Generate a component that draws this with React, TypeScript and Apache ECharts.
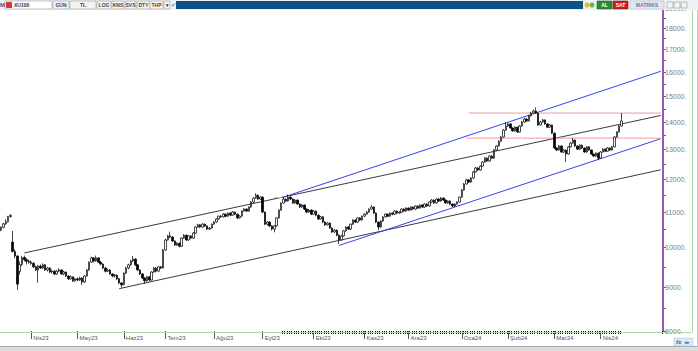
import React, { useEffect, useRef } from 'react';
import * as echarts from 'echarts';

// ---------- DATA ----------
const MONTH_LABELS = ['Mar23', 'Nis23', 'May23', 'Haz23', 'Tem23', 'Ağu23', 'Eyl23', 'Eki23', 'Kas23', 'Ara23', 'Oca24', 'Şub24', 'Mar24', 'Nis24'];

// daily candles: [open, close, low, high]
const MAR23 = [
  [10480, 10560, 10450, 10590], [10560, 10660, 10530, 10690], [10660, 10720, 10630, 10790], [10720, 10870, 10700, 10890],
  [10870, 10900, 10840, 10940], [10150, 9900, 9870, 10460], [9900, 9780, 9720, 9960], [9780, 9070, 8930, 9800],
  [9380, 9560, 9300, 9640], [9560, 9740, 9520, 9780], [9740, 9680, 9640, 9790], [9680, 9640, 9560, 9720],
  [9640, 9620, 9580, 9690],
];
const NIS23 = [
  [9620, 9590, 9550, 9660], [9590, 9500, 9470, 9620], [9500, 9420, 9390, 9530], [9420, 9520, 9100, 9550],
  [9520, 9470, 9440, 9560], [9470, 9550, 9450, 9590], [9550, 9420, 9400, 9570], [9420, 9470, 9380, 9500],
  [9470, 9370, 9340, 9490], [9370, 9390, 9330, 9430], [9390, 9320, 9290, 9410], [9320, 9390, 9300, 9420],
  [9390, 9420, 9360, 9460], [9420, 9320, 9300, 9440], [9320, 9370, 9290, 9400], [9370, 9270, 9240, 9380],
  [9270, 9200, 9170, 9290], [9200, 9250, 9180, 9280], [9250, 9150, 9120, 9260], [9150, 9200, 9130, 9230],
];
const MAY23 = [
  [9200, 9170, 9140, 9230], [9170, 9220, 9150, 9250], [9220, 9120, 9050, 9240], [9120, 9270, 9100, 9290],
  [9270, 9420, 9250, 9440], [9420, 9620, 9400, 9640], [9620, 9730, 9600, 9760], [9730, 9650, 9620, 9750],
  [9650, 9730, 9630, 9790], [9730, 9620, 9600, 9750], [9620, 9570, 9540, 9650], [9570, 9470, 9440, 9590],
  [9470, 9390, 9360, 9490], [9390, 9420, 9370, 9450], [9420, 9320, 9300, 9440], [9320, 9270, 9240, 9340],
  [9270, 9290, 9230, 9320], [9290, 9200, 9170, 9310], [9200, 9100, 9070, 9220], [9100, 9050, 8990, 9120],
];
const HAZ23 = [
  [9060, 9340, 9040, 9360], [9340, 9470, 9320, 9500], [9470, 9550, 9440, 9580], [9550, 9650, 9530, 9680],
  [9650, 9700, 9620, 9780], [9700, 9550, 9520, 9720], [9550, 9420, 9400, 9570], [9420, 9320, 9290, 9440],
  [9320, 9220, 9190, 9340], [9220, 9150, 9080, 9240], [9150, 9250, 9130, 9270], [9250, 9170, 9140, 9270],
  [9170, 9370, 9160, 9390], [9370, 9470, 9350, 9490], [9470, 9390, 9360, 9490], [9390, 9500, 9380, 9520],
  [9500, 9470, 9440, 9520], [9470, 9940, 9460, 9960],
];
const TEM23 = [
  [9940, 10210, 9920, 10240], [10210, 10320, 10190, 10350], [10320, 10290, 10260, 10440], [10290, 10180, 10150, 10310],
  [10180, 10070, 10040, 10200], [10070, 10120, 10050, 10150], [10120, 10040, 10010, 10140], [10040, 10260, 10020, 10280],
  [10260, 10340, 10240, 10370], [10340, 10210, 10180, 10360], [10210, 10320, 10190, 10340], [10320, 10260, 10230, 10340],
  [10260, 10400, 10240, 10420], [10400, 10570, 10380, 10590], [10570, 10630, 10550, 10660], [10630, 10570, 10540, 10650],
  [10570, 10650, 10550, 10680], [10650, 10600, 10570, 10670], [10600, 10510, 10480, 10620], [10510, 10540, 10490, 10570],
  [10540, 10650, 10520, 10670],
];
const AGU23 = [
  [10650, 10710, 10630, 10740], [10710, 10800, 10690, 10820], [10800, 10880, 10780, 10900], [10880, 10860, 10830, 10910],
  [10860, 10940, 10840, 10970], [10940, 10880, 10850, 10960], [10880, 10970, 10860, 10990], [10970, 10910, 10880, 10990],
  [10910, 11000, 10890, 11030], [11000, 10940, 10910, 11020], [10940, 10830, 10800, 10960], [10830, 10880, 10810, 10910],
  [10880, 11030, 10860, 11050], [11030, 11090, 11010, 11120], [11090, 11030, 11000, 11110], [11030, 11150, 11010, 11170],
  [11150, 11300, 11130, 11320], [11300, 11420, 11280, 11450], [11420, 11510, 11400, 11570], [11510, 11390, 11360, 11530],
  [11390, 11450, 11370, 11480],
];
const EYL23 = [
  [11450, 11000, 10970, 11470], [11000, 10650, 10620, 11020], [10650, 10710, 10610, 10740], [10710, 10600, 10570, 10730],
  [10600, 10510, 10470, 10620], [10510, 10600, 10420, 10620], [10600, 10830, 10580, 10850], [10830, 11060, 10810, 11080],
  [11060, 11270, 11040, 11290], [11270, 11390, 11250, 11450], [11390, 11330, 11300, 11410], [11330, 11450, 11310, 11530],
  [11450, 11390, 11360, 11470], [11390, 11270, 11240, 11410], [11270, 11360, 11250, 11390], [11360, 11240, 11210, 11380],
  [11240, 11150, 11120, 11260], [11150, 11210, 11130, 11240], [11210, 11090, 11060, 11230], [11090, 11000, 10970, 11110],
  [11000, 11060, 10980, 11090], [11060, 10940, 10910, 11080],
];
const EKI23 = [
  [10940, 11030, 10920, 11060], [11030, 10910, 10880, 11050], [10910, 10800, 10770, 10930], [10800, 10860, 10780, 10890],
  [10860, 10710, 10680, 10880], [10710, 10630, 10600, 10730], [10630, 10680, 10610, 10710], [10680, 10540, 10510, 10700],
  [10540, 10430, 10400, 10560], [10430, 10480, 10410, 10510], [10480, 10340, 10310, 10500], [10340, 10210, 10100, 10360],
  [10210, 10320, 10190, 10350], [10320, 10460, 10300, 10480], [10460, 10570, 10440, 10590], [10570, 10510, 10480, 10590],
  [10510, 10650, 10490, 10670], [10650, 10770, 10630, 10790], [10770, 10710, 10680, 10790], [10710, 10830, 10690, 10850],
  [10830, 10770, 10740, 10850], [10770, 10880, 10750, 10900],
];
const KAS23 = [
  [10880, 10940, 10860, 10970], [10940, 11000, 10920, 11030], [11000, 11090, 10980, 11110], [11090, 11150, 11070, 11210],
  [11150, 10970, 10940, 11170], [10970, 10710, 10680, 10990], [10710, 10570, 10480, 10730], [10570, 10740, 10550, 10760],
  [10740, 10860, 10720, 10880], [10860, 10940, 10840, 10960], [10940, 10880, 10850, 10960], [10880, 10970, 10860, 10990],
  [10970, 10940, 10910, 10990], [10940, 11030, 10920, 11050], [11030, 10970, 10940, 11050], [10970, 11000, 10950, 11030],
  [11000, 11090, 10980, 11110], [11090, 11030, 11000, 11110], [11030, 11120, 11010, 11140],
];
const ARA23 = [
  [11120, 11060, 11030, 11140], [11060, 11150, 11040, 11170], [11150, 11090, 11060, 11170], [11090, 11180, 11070, 11200],
  [11180, 11120, 11090, 11200], [11120, 11210, 11100, 11230], [11210, 11150, 11120, 11230], [11150, 11240, 11130, 11260],
  [11240, 11180, 11150, 11260], [11180, 11300, 11160, 11320], [11300, 11360, 11280, 11390], [11360, 11270, 11240, 11380],
  [11270, 11390, 11250, 11410], [11390, 11330, 11300, 11410], [11330, 11420, 11310, 11450], [11420, 11360, 11330, 11440],
  [11360, 11270, 11240, 11380], [11270, 11330, 11250, 11350], [11330, 11240, 11210, 11350], [11240, 11180, 11150, 11260],
  [11180, 11240, 11150, 11260], [11240, 11300, 11220, 11320], [11300, 11450, 11280, 11470],
];
const OCA24 = [
  [11450, 11670, 11430, 11700], [11670, 11860, 11650, 11890], [11860, 11990, 11840, 12020], [11990, 11920, 11890, 12020],
  [11920, 12050, 11900, 12080], [12050, 12250, 12030, 12280], [12250, 12380, 12230, 12410], [12380, 12310, 12280, 12410],
  [12310, 12440, 12290, 12470], [12440, 12580, 12420, 12610], [12580, 12710, 12560, 12740], [12710, 12610, 12580, 12740],
  [12610, 12780, 12590, 12810], [12780, 12710, 12680, 12810], [12710, 12990, 12690, 13020], [12990, 13130, 12970, 13160],
  [13130, 13300, 13110, 13330], [13300, 13450, 13280, 13480], [13450, 13700, 13430, 13740], [13700, 13850, 13680, 14000],
];
const SUB24 = [
  [13850, 13930, 13820, 13970], [13930, 13780, 13750, 13960], [13780, 13670, 13640, 13800], [13670, 13810, 13650, 13840],
  [13810, 13630, 13600, 13830], [13630, 13850, 13610, 13880], [13850, 14000, 13830, 14040], [14000, 14110, 13980, 14150],
  [14110, 14040, 14000, 14140], [14040, 14230, 14020, 14270], [14230, 14340, 14210, 14380], [14340, 14420, 14310, 14470],
  [14420, 14340, 14300, 14560], [14340, 13890, 13860, 14370], [13890, 14000, 13870, 14040], [14000, 14080, 13980, 14120],
  [14080, 13930, 13900, 14100], [13930, 13810, 13780, 13950], [13810, 13890, 13790, 13920], [13890, 13590, 13560, 13910],
];
const MAR24 = [
  [13590, 13060, 13030, 13610], [13060, 12990, 12950, 13090], [12990, 13130, 12970, 13160], [13130, 12920, 12890, 13150],
  [12920, 12990, 12880, 13020], [12990, 12850, 12580, 13010], [12850, 13100, 12830, 13130], [13100, 13230, 13080, 13260],
  [13230, 13340, 13210, 13420], [13340, 13130, 13100, 13360], [13130, 13020, 12990, 13150], [13020, 13160, 13000, 13190],
  [13160, 13060, 13030, 13180], [13060, 12920, 12890, 13080], [12920, 13100, 12900, 13130], [13100, 12990, 12960, 13120],
  [12990, 12850, 12820, 13010], [12850, 12780, 12750, 12870], [12780, 12880, 12760, 12910], [12880, 12710, 12640, 12900],
];
const NIS24 = [
  [12710, 12920, 12690, 12950], [12920, 13020, 12900, 13050], [13020, 12950, 12920, 13040], [12950, 13060, 12930, 13090],
  [13060, 12990, 12960, 13080], [12990, 13100, 12970, 13130], [13100, 13450, 13080, 13480], [13450, 13630, 13430, 13660],
  [13630, 13850, 13610, 13880], [13850, 14040, 13830, 14340],
];

const FUTURE_SLOTS = 17;

// trend lines: [category index, price]
const BLACK_UPPER = [[10, 9860], [285, 14250]];
const BLACK_LOWER = [[51, 8960], [285, 12320]];
const BLUE_UPPER = [[122, 11450], [285, 16040]];
const BLUE_LOWER = [[146, 10060], [285, 13390]];
const YELLOW_MARK = [[118, 11440], [121, 11440]];
const RED_HIGH = [[202, 14340], [285, 14340]];
const RED_LOW = [[201, 13410], [285, 13410]];

const Y_LABELS = [8000, 9000, 10000, 11000, 12000, 13000, 14000, 15000, 16000, 17000, 18000, 19000];
const Y_TICKS = [8000, 8500, 9000, 9500, 10000, 10500, 11000, 11500, 12000, 12500, 13000, 13500, 14000, 14500, 15000, 15500, 16000, 16500, 17000, 17500, 18000, 18500, 19000];
const MARKED_FROM = 122;
const MARKED_TO = 268;

const MONTH_DATA = [MAR23, NIS23, MAY23, HAZ23, TEM23, AGU23, EYL23, EKI23, KAS23, ARA23, OCA24, SUB24, MAR24, NIS24];

export default function App() {
  const ref = useRef<HTMLDivElement>(null);
  useEffect(() => {
    if (!ref.current) return;
    const chart = echarts.init(ref.current, undefined, { renderer: 'svg' });

    const categories: string[] = [];
    const candles: number[][] = [];
    const monthStart = new Map<number, string>();
    MONTH_DATA.forEach((m, mi) => {
      m.forEach((c, d) => {
        const idx = categories.length;
        if (d === 0 && mi > 0) monthStart.set(idx, MONTH_LABELS[mi]);
        categories.push(`${MONTH_LABELS[mi]}-${d + 1}`);
        candles.push(c);
      });
    });
    for (let k = 1; k <= FUTURE_SLOTS; k++) categories.push(`+${k}`);

    const trend = (data: number[][], color: string, name: string) => ({
      type: 'line', name, data, symbol: 'none', silent: true,
      lineStyle: { color, width: 1 }, z: 3,
    });

    const font = 'Liberation Sans';
    const btn = (x: number, w: number, label: string, fill = '#f4f4f4', color = '#444', stroke = '#9a9a9a') => [
      { type: 'rect', shape: { x, y: 1, width: w, height: 8 }, style: { fill, stroke, lineWidth: 0.6 }, z: 100 },
      { type: 'text', x: x + w / 2, y: 5.2, style: { text: label, fill: color, fontSize: 5, fontFamily: font, fontWeight: 'bold', align: 'center', verticalAlign: 'middle' }, z: 101 },
    ];

    const graphics: any[] = [
      { type: 'rect', shape: { x: 0, y: 0, width: 698, height: 10 }, style: { fill: '#eef1f4' }, z: 99 },
      { type: 'text', x: 0, y: 5, style: { text: 'M', fill: '#6b3b8c', fontSize: 6, fontFamily: font, fontWeight: 'bold', verticalAlign: 'middle' }, z: 101 },
      { type: 'rect', shape: { x: 5, y: 1, width: 47, height: 8 }, style: { fill: '#fff', stroke: '#9a9a9a', lineWidth: 0.6 }, z: 100 },
      { type: 'rect', shape: { x: 6, y: 2, width: 6, height: 6 }, style: { fill: '#d23a3a' }, z: 101 },
      { type: 'text', x: 14, y: 5.2, style: { text: 'XU100', fill: '#333', fontSize: 5, fontFamily: font, fontWeight: 'bold', verticalAlign: 'middle' }, z: 101 },
      ...btn(53, 16, 'GÜN'),
      ...btn(70, 26, 'TL'),
      ...btn(97, 14, 'LOG'),
      ...btn(112, 12, 'KNS'),
      ...btn(125, 11, 'SVS'),
      ...btn(137, 13, 'DTY'),
      ...btn(150, 13, 'THP'),
      ...btn(164, 6, '▾'),
      { type: 'text', x: 171, y: 5.2, style: { text: '✔', fill: '#3a8fd8', fontSize: 6, fontFamily: font, verticalAlign: 'middle' }, z: 101 },
      { type: 'rect', shape: { x: 176, y: 1, width: 407, height: 8 }, style: { fill: '#0e5186' }, z: 100 },
      { type: 'circle', shape: { cx: 587, cy: 5, r: 2.5 }, style: { fill: '#e8b828' }, z: 101 },
      { type: 'circle', shape: { cx: 592, cy: 5, r: 2.5 }, style: { fill: '#5cb85c' }, z: 101 },
      ...btn(597, 15, 'AL', '#2b8a3a', '#fff', '#1d6a2a'),
      ...btn(613, 15, 'SAT', '#c42020', '#fff', '#8e1515'),
      ...btn(630, 34, 'MATRIKS', '#e4e8ee', '#5a7ea8', '#b0b8c4'),
      { type: 'rect', shape: { x: 667, y: 2, width: 6, height: 6 }, style: { fill: '#f4f4f4', stroke: '#999', lineWidth: 0.6 }, z: 100 },
      { type: 'rect', shape: { x: 674, y: 2, width: 6, height: 6 }, style: { fill: '#f4f4f4', stroke: '#999', lineWidth: 0.6 }, z: 100 },
      { type: 'rect', shape: { x: 681, y: 2, width: 6, height: 6 }, style: { fill: '#f4f4f4', stroke: '#999', lineWidth: 0.6 }, z: 100 },
      // price-axis spine
      { type: 'rect', shape: { x: 662, y: 10, width: 2, height: 321 }, style: { fill: '#9a55b8' }, z: 50 },
      // frame
      { type: 'line', shape: { x1: 0, y1: 332.5, x2: 692, y2: 332.5 }, style: { stroke: '#a9d9a9', lineWidth: 1 }, z: 5 },
      { type: 'line', shape: { x1: 692.5, y1: 10, x2: 692.5, y2: 332 }, style: { stroke: '#a9d9a9', lineWidth: 1 }, z: 5 },
      { type: 'line', shape: { x1: 697.5, y1: 10, x2: 697.5, y2: 351 }, style: { stroke: '#c8c8c8', lineWidth: 1 }, z: 5 },
      // status bar
      { type: 'rect', shape: { x: 0, y: 347, width: 698, height: 4 }, style: { fill: '#dcdcdc' }, z: 5 },
      { type: 'line', shape: { x1: 0, y1: 346.5, x2: 698, y2: 346.5 }, style: { stroke: '#a8a8a8', lineWidth: 1 }, z: 5 },
      { type: 'rect', shape: { x: 674, y: 338, width: 19, height: 8 }, style: { fill: '#dde8f4', stroke: '#b8c8dc', lineWidth: 0.6 }, z: 6 },
      { type: 'text', x: 676, y: 342, style: { text: 'fx', fill: '#2a5fb0', fontSize: 6, fontStyle: 'italic', fontWeight: 'bold', fontFamily: font, verticalAlign: 'middle' }, z: 7 },
      { type: 'text', x: 684, y: 342, style: { text: '◂▸', fill: '#2a5fb0', fontSize: 5, fontFamily: font, verticalAlign: 'middle' }, z: 7 },
    ];

    chart.setOption({
      animation: false,
      backgroundColor: '#ffffff',
      grid: { left: 0, right: 36, top: 8, bottom: 20, containLabel: false, outerBoundsMode: 'none' },
      xAxis: [
        {
          type: 'category', data: categories, boundaryGap: true,
          axisLine: { show: false },
          axisTick: {
            show: true, alignWithLabel: true, length: 8,
            interval: (i: number) => monthStart.has(i),
            lineStyle: { color: '#555', width: 1 },
          },
          axisLabel: {
            show: true, interval: (i: number) => monthStart.has(i),
            formatter: (_v: string, i: number) => monthStart.get(i) || '',
            align: 'left', padding: [0, 0, 0, 2], margin: 4,
            fontSize: 6, color: '#555', fontFamily: font,
          },
          splitLine: { show: false },
        },
        {
          type: 'category', data: categories, boundaryGap: true, position: 'bottom',
          axisLine: { show: false },
          axisLabel: { show: false },
          axisTick: {
            show: true, length: 3,
            interval: (i: number) => i >= MARKED_FROM && i <= MARKED_TO,
            lineStyle: { color: '#111', width: 1 },
          },
          splitLine: { show: false },
        },
      ],
      yAxis: {
        type: 'log', logBase: 10, min: 8000, max: 19000, position: 'right',
        axisLine: { show: false },
        axisTick: { show: true, customValues: Y_TICKS, length: 4, lineStyle: { color: '#666', width: 1 } },
        axisLabel: {
          show: true, customValues: Y_LABELS, formatter: (v: number) => `${Math.round(v)}.`,
          fontSize: 7, color: '#6f8296', fontFamily: font, margin: 3,
        },
        splitLine: { show: false },
      },
      series: [
        {
          type: 'candlestick', name: 'XU100', data: candles, barWidth: 2,
          itemStyle: { color: '#ffffff', color0: '#000000', borderColor: '#000000', borderColor0: '#000000', borderWidth: 0.7 },
          z: 4,
        },
        trend(BLACK_UPPER, '#3a3a3a', 'u1'),
        trend(BLACK_LOWER, '#3a3a3a', 'l1'),
        trend(BLUE_UPPER, '#3344e8', 'u2'),
        trend(BLUE_LOWER, '#3344e8', 'l2'),
        trend(YELLOW_MARK, '#e6cf3a', 'y'),
        trend(RED_HIGH, '#f29a9a', 'r1'),
        trend(RED_LOW, '#f29a9a', 'r2'),
      ],
      graphic: { elements: graphics },
    });
    return () => chart.dispose();
  }, []);
  return <div ref={ref} style={{ position: 'fixed', left: 0, top: 0, width: 698, height: 351 }} />;
}
